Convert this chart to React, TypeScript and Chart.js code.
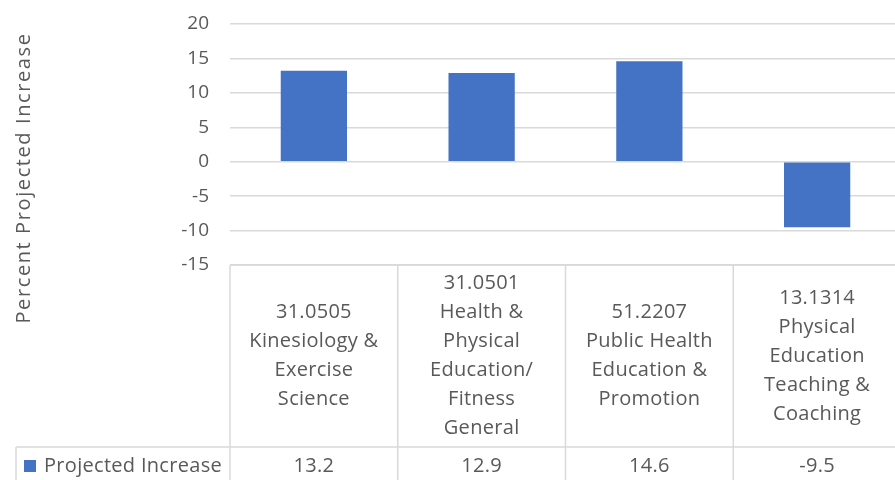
import React, { useEffect, useRef } from "react";
import { Chart, registerables } from "chart.js";

Chart.register(...registerables);

const categories: string[][] = [
  ["31.0505", "Kinesiology &", "Exercise", "Science"],
  ["31.0501", "Health &", "Physical", "Education/", "Fitness", "General"],
  ["51.2207", "Public Health", "Education &", "Promotion"],
  ["13.1314", "Physical", "Education", "Teaching &", "Coaching"],
];
const values: number[] = [13.2, 12.9, 14.6, -9.5];
const valueLabels: string[] = ["13.2", "12.9", "14.6", "-9.5"];
const seriesName = "Projected Increase";
const yTitle = "Percent Projected Increase";
const yMin = -15;
const yMax = 20;
const yStep = 5;

const FONT = "'Open Sans', sans-serif";
const TEXT = "#595959";
const GRID = "#d9d9d9";
const BAR = "#4472C4";

const tablePlugin = {
  id: "dataTable",
  afterDraw(chart: any) {
    const { ctx, chartArea } = chart;
    const x = chart.scales.x;
    const n = categories.length;
    const colW = (chartArea.right - chartArea.left) / n;
    const top = chartArea.bottom;
    const rowSep = top + 182;
    const bottom = chart.height + 2;
    ctx.save();
    ctx.strokeStyle = GRID;
    ctx.lineWidth = 1.5;
    ctx.beginPath();
    ctx.moveTo(chartArea.left, top);
    ctx.lineTo(chartArea.right, top);
    ctx.moveTo(16, rowSep);
    ctx.lineTo(chartArea.right, rowSep);
    ctx.moveTo(16, rowSep);
    ctx.lineTo(16, bottom);
    for (let i = 0; i <= n; i++) {
      const bx = chartArea.left + i * colW;
      ctx.moveTo(bx, top);
      ctx.lineTo(bx, bottom);
    }
    ctx.stroke();

    ctx.fillStyle = TEXT;
    ctx.font = `20px ${FONT}`;
    (ctx as any).letterSpacing = "0.3px";
    ctx.textAlign = "center";
    ctx.textBaseline = "middle";
    const lineH = 29;
    const headerMid = (top + rowSep) / 2;
    categories.forEach((lines, i) => {
      const cx = x.getPixelForValue(i);
      const startY = headerMid - ((lines.length - 1) * lineH) / 2;
      lines.forEach((ln, j) => ctx.fillText(ln, cx, startY + j * lineH));
      ctx.fillText(valueLabels[i], cx, rowSep + 19);
    });
    ctx.fillStyle = BAR;
    ctx.fillRect(24, rowSep + 13, 12, 12);
    ctx.fillStyle = TEXT;
    ctx.textAlign = "left";
    ctx.fillText(seriesName, 44, rowSep + 19);

    ctx.save();
    ctx.translate(30, 178);
    ctx.rotate(-Math.PI / 2);
    ctx.textAlign = "center";
    ctx.textBaseline = "alphabetic";
    ctx.font = `20px ${FONT}`;
    (ctx as any).letterSpacing = "1.6px";
    ctx.fillText(yTitle, 0, 0);
    ctx.restore();
    ctx.restore();
  },
};

export default function App() {
  const ref = useRef<HTMLCanvasElement | null>(null);
  useEffect(() => {
    document.body.style.margin = "0";
    const chart = new Chart(ref.current as HTMLCanvasElement, {
      type: "bar",
      data: {
        labels: categories.map((c) => c.join(" ")),
        datasets: [
          {
            label: seriesName,
            data: values,
            backgroundColor: BAR,
            borderWidth: 0,
            categoryPercentage: 1,
            barPercentage: 0.395,
          },
        ],
      },
      options: {
        animation: false,
        responsive: false,
        maintainAspectRatio: false,
        layout: { padding: { left: 0, right: 0, top: 24, bottom: 215 } },
        plugins: { legend: { display: false }, tooltip: { enabled: false } },
        scales: {
          x: { display: false, offset: true },
          y: {
            min: yMin,
            max: yMax,
            ticks: {
              stepSize: yStep,
              color: TEXT,
              padding: 21,
              font: { family: FONT, size: 19 },
            },
            grid: { color: GRID, lineWidth: 1.5, drawTicks: false },
            border: { display: false },
            afterFit: (s: any) => {
              s.width = 230;
              s.paddingTop = 0;
              s.paddingBottom = 0;
            },
          },
        },
      },
      plugins: [tablePlugin],
    });
    return () => chart.destroy();
  }, []);
  return (
    <div style={{ position: "fixed", left: 0, top: 0, width: 895, height: 480, overflow: "hidden", background: "#fff" }}>
      <canvas ref={ref} width={901} height={480} style={{ width: 901, height: 480, display: "block" }} />
    </div>
  );
}
